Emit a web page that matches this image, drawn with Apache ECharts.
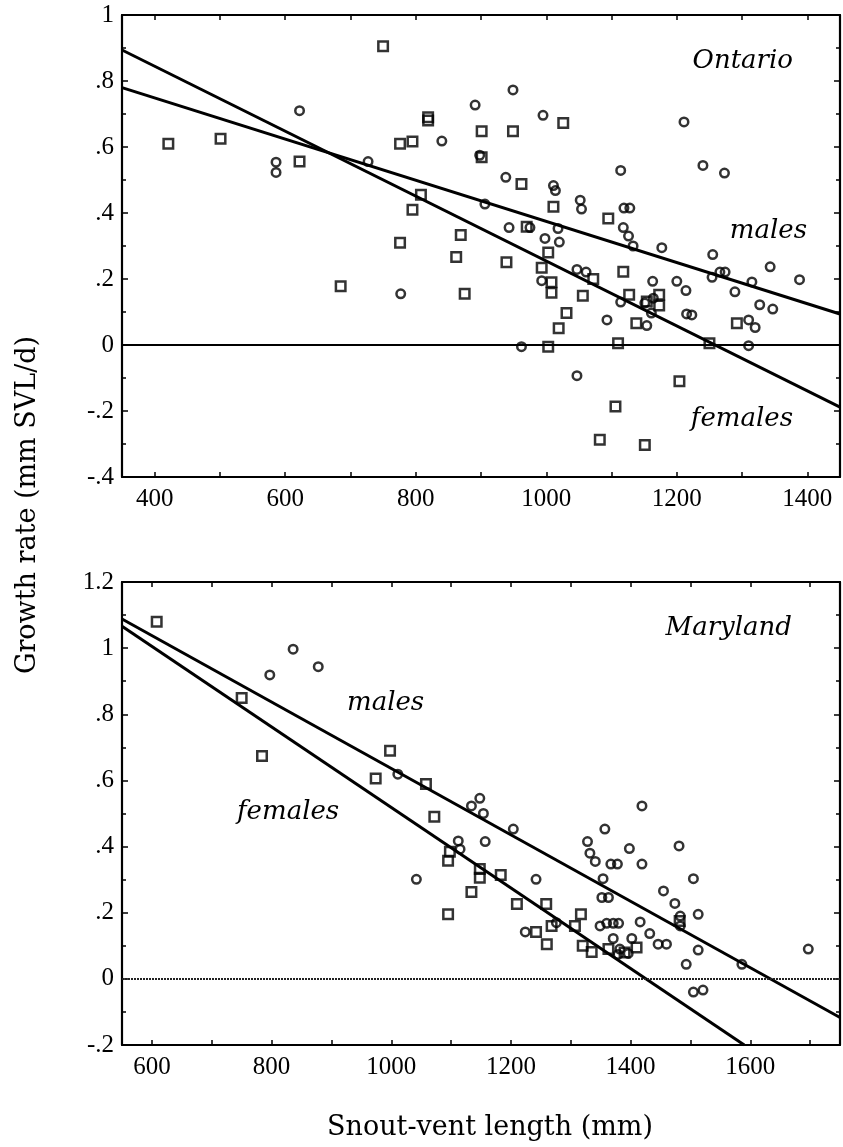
<!DOCTYPE html>
<html><head><meta charset="utf-8">
<script src="https://cdn.jsdelivr.net/npm/echarts@6/dist/echarts.min.js"></script>
<style>html,body{margin:0;padding:0;background:#fff}#c{width:843px;height:1147px}</style>
</head><body><div id="c"></div>
<script>
// ---------- DATA ----------
const ontarioMales = [[586,0.554],[586,0.523],[622,0.71],[727,0.556],[777,0.155],[840,0.618],[891,0.727],[898,0.575],[949,0.773],[995,0.696],[1211,0.676],[1114,0.529],[1240,0.544],[1273,0.521],[938,0.508],[1011,0.483],[1014,0.468],[1052,0.439],[1054,0.412],[906,0.427],[1119,0.415],[1128,0.415],[943,0.356],[975,0.356],[1018,0.353],[998,0.323],[1020,0.312],[1118,0.356],[1126,0.33],[1133,0.3],[1177,0.295],[1255,0.274],[1343,0.237],[1254,0.205],[1266,0.221],[1274,0.221],[1388,0.198],[1315,0.191],[1289,0.161],[1327,0.122],[1347,0.109],[1310,0.076],[1320,0.053],[1310,-0.002],[1200,0.193],[1214,0.165],[1215,0.094],[1223,0.091],[1163,0.193],[1164,0.142],[1151,0.127],[1161,0.097],[1154,0.059],[1114,0.13],[1093,0.076],[1047,0.229],[1061,0.221],[993,0.195],[962,-0.005],[1047,-0.093]];
const ontarioFemales = [[421,0.61],[501,0.625],[622,0.556],[750,0.905],[776,0.61],[795,0.617],[819,0.69],[819,0.68],[808,0.455],[795,0.41],[776,0.31],[869,0.333],[862,0.267],[901,0.648],[901,0.569],[685,0.178],[875,0.155],[949,0.648],[1026,0.673],[962,0.488],[1011,0.419],[1095,0.383],[970,0.358],[1003,0.28],[939,0.251],[993,0.234],[1008,0.19],[1008,0.158],[1056,0.149],[1031,0.097],[1019,0.051],[1072,0.2],[1118,0.222],[1127,0.152],[1138,0.066],[1154,0.132],[1173,0.152],[1173,0.12],[1292,0.066],[1003,-0.005],[1110,0.005],[1250,0.005],[1204,-0.11],[1106,-0.186],[1082,-0.287],[1151,-0.303]];
const marylandMales = [[797,0.919],[836,0.997],[878,0.944],[1011,0.619],[1042,0.301],[1112,0.417],[1115,0.392],[1134,0.523],[1148,0.546],[1154,0.5],[1157,0.415],[1204,0.453],[1224,0.142],[1242,0.301],[1276,0.17],[1328,0.415],[1332,0.38],[1341,0.355],[1357,0.453],[1354,0.303],[1352,0.246],[1363,0.246],[1367,0.347],[1378,0.347],[1398,0.394],[1419,0.523],[1419,0.347],[1481,0.402],[1505,0.303],[1455,0.266],[1474,0.228],[1483,0.19],[1483,0.16],[1513,0.195],[1416,0.172],[1432,0.137],[1446,0.105],[1460,0.105],[1513,0.087],[1493,0.044],[1586,0.044],[1697,0.09],[1505,-0.04],[1521,-0.034],[1349,0.16],[1360,0.168],[1371,0.168],[1380,0.168],[1371,0.122],[1402,0.122],[1382,0.09],[1396,0.077],[1379,0.074]];
const marylandFemales = [[608,1.08],[750,0.849],[784,0.674],[998,0.69],[974,0.606],[1058,0.589],[1072,0.49],[1095,0.357],[1098,0.384],[1095,0.195],[1134,0.263],[1148,0.332],[1148,0.306],[1183,0.314],[1210,0.226],[1259,0.226],[1242,0.142],[1260,0.105],[1268,0.16],[1307,0.16],[1317,0.195],[1320,0.1],[1335,0.081],[1363,0.09],[1410,0.095],[1482,0.175],[1390,0.08]];
const ontarioMaleFit = [[350,0.78],[1450,0.094]];
const ontarioFemaleFit = [[350,0.894],[1450,-0.188]];
const marylandMaleFit = [[550,1.088],[1750,-0.117]];
const marylandFemaleFit = [[550,1.066],[1590,-0.2]];
const ontarioXTicks = [400,500,600,700,800,900,1000,1100,1200,1300,1400];
const ontarioXLabels = [400,600,800,1000,1200,1400];
const marylandXTicks = [600,700,800,900,1000,1100,1200,1300,1400,1500,1600,1700];
const marylandXLabels = [600,800,1000,1200,1400,1600];

// ---------- CHART ----------
const chart = echarts.init(document.getElementById('c'), null, {renderer:'canvas'});
const FONT = 'Liberation Serif';
const fmtY = v => { let s = String(Math.round(v*10)/10); return s.replace(/^0\./,'.').replace(/^-0\./,'-.'); };
const axLine = {show:true, onZero:false, lineStyle:{color:'#000', width:2.2}};
function xAx(grid, min, max, ticks, labels, pos){
  const main = pos === 'bottom';
  return {type:'value', gridIndex:grid, position:pos, min, max, splitLine:{show:false},
    axisLine:axLine,
    axisTick:{show:true, inside:true, length:5, customValues:ticks, lineStyle:{color:'#000',width:1.5}},
    axisLabel:{show:main, customValues:labels, formatter:v=>String(v), color:'#000', fontFamily:FONT, fontSize:25, margin:10}};
}
function yAx(grid, min, max, pos){
  const main = pos === 'left';
  return {type:'value', gridIndex:grid, position:pos, min, max, interval:0.2, splitLine:{show:false},
    axisLine:axLine,
    axisTick:{show:true, inside:true, length:6, lineStyle:{color:'#000',width:1.5}},
    minorTick:{show:true, splitNumber:2, length:4, lineStyle:{color:'#000',width:1.5}},
    axisLabel:{show:main, formatter:fmtY, color:'#000', fontFamily:FONT, fontSize:25, margin:8}};
}
const symStyle = {color:'rgba(0,0,0,0)', borderColor:'#000', borderWidth:2.5};
function scat(name, data, x, y, sym){
  return {name, type:'scatter', data, xAxisIndex:x, yAxisIndex:y, symbol:sym,
    symbolSize: sym==='rect'?9.5:8.5, itemStyle:symStyle, silent:true, z:3};
}
function fit(name, data, x, y){
  return {name, type:'line', data, xAxisIndex:x, yAxisIndex:y, showSymbol:false, symbol:'none',
    lineStyle:{color:'#000', width:3}, silent:true, z:4};
}
const italic = (text, x, y, align) => ({type:'text', x, y,
  style:{text, fill:'#000', font:'italic 26px "DejaVu Serif"', textAlign:align||'left', textVerticalAlign:'middle'}});

chart.setOption({
  animation:false,
  backgroundColor:'#fff',
  grid:[{left:122, top:15, width:718, height:462}, {left:122, top:582, width:718, height:463}],
  xAxis:[xAx(0,350,1450,ontarioXTicks,ontarioXLabels,'bottom'), xAx(0,350,1450,ontarioXTicks,ontarioXLabels,'top'),
         xAx(1,550,1750,marylandXTicks,marylandXLabels,'bottom'), xAx(1,550,1750,marylandXTicks,marylandXLabels,'top')],
  yAxis:[yAx(0,-0.4,1,'left'), yAx(0,-0.4,1,'right'), yAx(1,-0.2,1.2,'left'), yAx(1,-0.2,1.2,'right')],
  series:[
    Object.assign(scat('Ontario males', ontarioMales, 0, 0, 'circle'), {markLine:{silent:true, symbol:'none', label:{show:false},
      lineStyle:{color:'#000', width:1.8, type:'solid'}, data:[{yAxis:0}]}}),
    scat('Ontario females', ontarioFemales, 0, 0, 'rect'),
    fit('Ontario males fit', ontarioMaleFit, 0, 0),
    fit('Ontario females fit', ontarioFemaleFit, 0, 0),
    Object.assign(scat('Maryland males', marylandMales, 2, 2, 'circle'), {markLine:{silent:true, symbol:'none', label:{show:false},
      lineStyle:{color:'#222', width:2, type:[2,1]}, data:[{yAxis:0}]}}),
    scat('Maryland females', marylandFemales, 2, 2, 'rect'),
    fit('Maryland males fit', marylandMaleFit, 2, 2),
    fit('Maryland females fit', marylandFemaleFit, 2, 2)
  ],
  graphic:[
    italic('Ontario', 793, 61, 'right'),
    italic('males', 807, 231, 'right'),
    italic('females', 793, 419, 'right'),
    italic('Maryland', 792, 628, 'right'),
    italic('males', 347, 703, 'left'),
    italic('females', 237, 812, 'left'),
    {type:'text', x:490, y:1128, style:{text:'Snout-vent length (mm)', fill:'#000', font:'27px "DejaVu Serif"', textAlign:'center', textVerticalAlign:'middle'}},
    {type:'text', x:28, y:505, rotation:Math.PI/2, style:{text:'Growth rate (mm SVL/d)', fill:'#000', font:'27px "DejaVu Serif"', textAlign:'center', textVerticalAlign:'middle'}}
  ]
});
</script></body></html>
